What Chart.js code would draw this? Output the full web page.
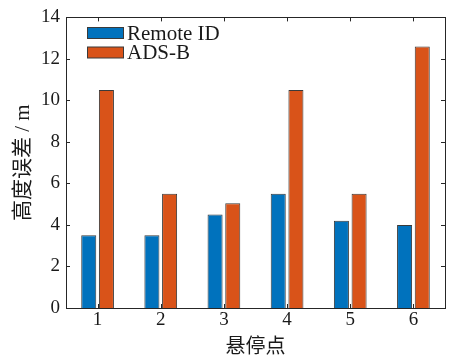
<!DOCTYPE html>
<html>
<head>
<meta charset="utf-8">
<script src="https://cdn.jsdelivr.net/npm/chart.js@4.4.0/dist/chart.umd.min.js"></script>
<style>
  html, body { margin: 0; padding: 0; background: #fff; }
  #wrap { width: 451px; height: 363px; }
</style>
</head>
<body>
<div id="wrap"><canvas id="chart" width="451" height="363"></canvas></div>
<script>
// hover points (x axis)
const categories = ['1', '2', '3', '4', '5', '6'];
// height error in metres
const remoteId = [3.5, 3.5, 4.5, 5.5, 4.2, 4.0];
const adsB = [10.5, 5.5, 5.05, 10.5, 5.5, 12.6];
const yTicks = [0, 2, 4, 6, 8, 10, 12, 14];

const serif = '"Liberation Serif", "Noto Sans CJK SC", serif';
const edge = '#3a3a3a';

// matlab style box, inward ticks and legend inside the axes
const boxPlugin = {
  id: 'boxPlugin',
  afterDraw (chart) {
    const ctx = chart.ctx;
    const a = chart.chartArea;
    const x = chart.scales.x;
    const y = chart.scales.y;
    ctx.save();
    ctx.strokeStyle = '#262626';
    ctx.lineWidth = 1;
    ctx.strokeRect(Math.round(a.left) + 0.5, Math.round(a.top) + 0.5,
      Math.round(a.right - a.left), Math.round(a.bottom - a.top));
    ctx.beginPath();
    yTicks.forEach(v => {
      const py = Math.round(y.getPixelForValue(v)) + 0.5;
      ctx.moveTo(a.left, py); ctx.lineTo(a.left + 4, py);
      ctx.moveTo(a.right, py); ctx.lineTo(a.right - 4, py);
    });
    categories.forEach((c, i) => {
      const px = Math.round(x.getPixelForValue(i)) + 0.5;
      ctx.moveTo(px, a.bottom); ctx.lineTo(px, a.bottom - 4);
      ctx.moveTo(px, a.top); ctx.lineTo(px, a.top + 4);
    });
    ctx.stroke();

    // legend
    ctx.font = '21px ' + serif;
    ctx.textBaseline = 'middle';
    chart.data.datasets.forEach((ds, i) => {
      const ly = 33 + i * 19.5;
      ctx.fillStyle = ds.backgroundColor;
      ctx.fillRect(87, ly - 5.5, 36, 11);
      ctx.strokeStyle = edge;
      ctx.strokeRect(87.5, ly - 5.5, 36, 11);
      ctx.fillStyle = '#1a1a1a';
      ctx.fillText(ds.label, 127, ly + 1);
    });
    ctx.restore();
  }
};

new Chart(document.getElementById('chart'), {
  type: 'bar',
  data: {
    labels: categories,
    datasets: [
      {
        label: 'Remote ID',
        data: remoteId,
        backgroundColor: '#0072BD',
        borderColor: edge,
        borderWidth: 1,
        barPercentage: 0.85,
        categoryPercentage: 0.56
      },
      {
        label: 'ADS-B',
        data: adsB,
        backgroundColor: '#D95319',
        borderColor: edge,
        borderWidth: 1,
        barPercentage: 0.85,
        categoryPercentage: 0.56
      }
    ]
  },
  options: {
    responsive: false,
    animation: false,
    layout: { padding: { top: 12, right: 6, left: 0, bottom: 0 } },
    plugins: {
      legend: { display: false },
      tooltip: { enabled: false }
    },
    scales: {
      x: {
        offset: true,
        grid: { display: false, drawTicks: false },
        border: { display: false },
        ticks: { color: '#1a1a1a', font: { family: serif, size: 19 }, padding: 1 },
        title: {
          display: true,
          text: '悬停点',
          color: '#1a1a1a',
          font: { family: serif, size: 20 },
          padding: { top: 0, bottom: 3 }
        },
        afterFit (s) { s.height = 55; }
      },
      y: {
        min: 0,
        max: 14,
        afterBuildTicks (s) { s.ticks = yTicks.map(v => ({ value: v })); },
        grid: { display: false, drawTicks: false },
        border: { display: false },
        ticks: { color: '#1a1a1a', font: { family: serif, size: 19 }, padding: 6 },
        title: {
          display: true,
          text: '高度误差 / m',
          color: '#1a1a1a',
          font: { family: serif, size: 21 },
          padding: { top: 11, bottom: 0 }
        },
        afterFit (s) { s.width = 66; }
      }
    }
  },
  plugins: [boxPlugin]
});
</script>
</body>
</html>
